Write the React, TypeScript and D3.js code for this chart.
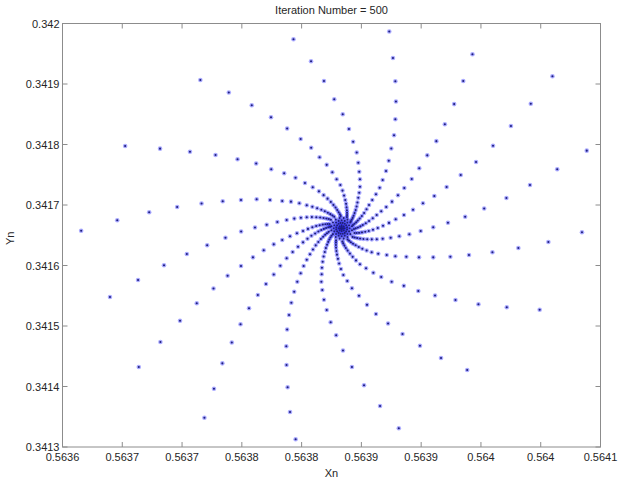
import React, { useEffect } from "react";
import * as d3 from "d3";

// Iterates of the map, one spiral arm at a time (outer -> inner)
const arm01: [number, number][] = [
  [0.5638733, 0.3419868], [0.5638764, 0.341943], [0.5638784, 0.3419045], [0.5638789, 0.3418711],
  [0.5638784, 0.3418417], [0.5638773, 0.3418154], [0.563875, 0.3417934], [0.5638729, 0.3417732],
  [0.5638706, 0.3417562], [0.5638678, 0.3417413], [0.5638653, 0.3417286], [0.5638622, 0.3417177],
  [0.5638591, 0.3417083], [0.5638564, 0.3417], [0.5638543, 0.3416929], [0.5638523, 0.3416869],
  [0.5638504, 0.3416819], [0.5638486, 0.3416777], [0.563847, 0.3416742], [0.5638456, 0.3416713],
  [0.5638442, 0.341669], [0.563843, 0.341667],
];
const arm02: [number, number][] = [
  [0.5637932, 0.3419739], [0.5638079, 0.3419375], [0.5638187, 0.341905], [0.5638273, 0.3418747],
  [0.5638344, 0.3418499], [0.5638396, 0.3418256], [0.5638431, 0.3418046], [0.5638461, 0.3417868],
  [0.5638474, 0.3417699], [0.5638482, 0.341755], [0.5638488, 0.3417425], [0.5638488, 0.3417302],
  [0.5638482, 0.3417203], [0.5638474, 0.3417121], [0.5638467, 0.3417042], [0.563846, 0.3416974],
  [0.5638452, 0.3416916], [0.5638443, 0.3416866], [0.5638435, 0.3416823], [0.5638427, 0.3416787],
  [0.5638419, 0.3416756], [0.5638411, 0.341673],
];
const arm03: [number, number][] = [
  [0.5639429, 0.3419491], [0.5639352, 0.341905], [0.5639276, 0.3418668], [0.5639198, 0.3418334],
  [0.5639127, 0.3418055], [0.5639051, 0.3417821], [0.5638984, 0.3417607], [0.5638921, 0.341743],
  [0.5638859, 0.3417281], [0.5638806, 0.341716], [0.5638756, 0.3417055], [0.5638708, 0.3416967],
  [0.5638666, 0.3416896], [0.5638628, 0.3416835], [0.5638595, 0.341678], [0.5638564, 0.3416735],
  [0.5638537, 0.3416698], [0.5638512, 0.3416669], [0.5638491, 0.3416646], [0.5638471, 0.3416628],
  [0.5638453, 0.3416614], [0.5638438, 0.3416604],
];
const arm04: [number, number][] = [
  [0.5640098, 0.3419127], [0.5639917, 0.3418674], [0.5639751, 0.3418306], [0.5639601, 0.341798],
  [0.5639459, 0.3417711], [0.5639331, 0.3417496], [0.5639213, 0.3417298], [0.563911, 0.3417149],
  [0.5639015, 0.3417028], [0.5638932, 0.3416922], [0.5638856, 0.3416835], [0.5638787, 0.3416764],
  [0.5638731, 0.3416704], [0.5638681, 0.3416656], [0.5638637, 0.341662], [0.5638597, 0.3416592],
  [0.5638562, 0.3416571], [0.5638532, 0.3416557], [0.5638505, 0.3416547], [0.5638481, 0.341654],
  [0.563846, 0.3416537], [0.5638442, 0.3416536],
];
const arm05: [number, number][] = [
  [0.5640385, 0.3417898], [0.5640138, 0.341759], [0.563991, 0.3417331], [0.5639713, 0.3417116],
  [0.5639527, 0.3416942], [0.5639368, 0.3416807], [0.5639224, 0.3416707], [0.5639101, 0.3416631],
  [0.5638996, 0.341657], [0.5638901, 0.3416516], [0.5638817, 0.3416483], [0.5638745, 0.3416459],
  [0.5638678, 0.3416443], [0.5638629, 0.3416435], [0.5638587, 0.3416432], [0.5638549, 0.3416433],
  [0.5638517, 0.3416438], [0.5638489, 0.3416445], [0.5638465, 0.3416453], [0.5638444, 0.3416463],
  [0.5638426, 0.3416473],
];
const arm06: [number, number][] = [
  [0.5640345, 0.3416549], [0.5640064, 0.3416388], [0.5639813, 0.3416289], [0.5639596, 0.3416218],
  [0.56394, 0.3416174], [0.5639244, 0.3416145], [0.5639101, 0.3416135], [0.5638982, 0.3416135],
  [0.5638876, 0.3416145], [0.5638784, 0.3416152], [0.5638712, 0.3416174], [0.5638641, 0.3416195],
  [0.5638586, 0.3416218], [0.5638544, 0.3416248], [0.5638508, 0.3416277], [0.5638478, 0.3416306],
  [0.5638452, 0.3416334], [0.563843, 0.341636], [0.5638412, 0.3416385], [0.5638397, 0.3416408],
  [0.5638384, 0.341643],
];
const arm07: [number, number][] = [
  [0.5639991, 0.3415269], [0.5639716, 0.3415309], [0.5639479, 0.341536], [0.5639287, 0.341543],
  [0.5639116, 0.3415504], [0.5638976, 0.3415578], [0.5638855, 0.3415664], [0.5638753, 0.3415732],
  [0.5638666, 0.341581], [0.56386, 0.3415881], [0.5638539, 0.3415954], [0.5638488, 0.341602],
  [0.5638455, 0.3416084], [0.5638427, 0.3416143], [0.5638404, 0.3416197], [0.5638385, 0.3416246],
  [0.563837, 0.3416289], [0.5638358, 0.3416329], [0.5638348, 0.3416365], [0.5638341, 0.3416396],
];
const arm08: [number, number][] = [
  [0.5639385, 0.3414273], [0.5639166, 0.3414471], [0.563899, 0.3414674], [0.5638844, 0.3414868],
  [0.5638723, 0.3415041], [0.5638622, 0.3415198], [0.5638547, 0.341535], [0.563848, 0.3415499],
  [0.5638421, 0.3415623], [0.5638382, 0.3415744], [0.5638349, 0.3415843], [0.5638329, 0.3415943],
  [0.5638314, 0.3416032], [0.5638304, 0.341611], [0.5638296, 0.3416179], [0.5638291, 0.341624],
  [0.5638288, 0.3416293], [0.5638287, 0.3416339], [0.5638287, 0.341638], [0.5638288, 0.3416415],
];
const arm09: [number, number][] = [
  [0.5638813, 0.3413309], [0.5638656, 0.3413678], [0.5638522, 0.341402], [0.5638421, 0.3414322],
  [0.5638346, 0.3414595], [0.5638289, 0.3414848], [0.5638243, 0.3415061], [0.563821, 0.3415264],
  [0.5638187, 0.3415435], [0.5638173, 0.3415595], [0.5638165, 0.3415732], [0.5638168, 0.3415855],
  [0.563817, 0.3415964], [0.5638176, 0.3416063], [0.5638184, 0.3416149], [0.5638194, 0.3416224],
  [0.5638203, 0.3416288], [0.5638213, 0.3416343], [0.5638223, 0.341639], [0.5638232, 0.3416429],
  [0.5638241, 0.3416463], [0.563825, 0.3416491],
];
const arm10: [number, number][] = [
  [0.563795, 0.3413127], [0.5637903, 0.3413578], [0.5637883, 0.3413987], [0.5637874, 0.3414355],
  [0.5637872, 0.3414666], [0.5637879, 0.3414942], [0.5637895, 0.3415182], [0.5637914, 0.3415385],
  [0.5637938, 0.3415567], [0.5637964, 0.3415732], [0.5637992, 0.3415871], [0.5638017, 0.3415992],
  [0.5638043, 0.3416096], [0.563807, 0.3416185], [0.5638095, 0.3416265], [0.5638118, 0.3416333],
  [0.563814, 0.3416389], [0.5638161, 0.3416437], [0.563818, 0.3416476], [0.5638197, 0.3416508],
  [0.5638212, 0.3416534], [0.5638227, 0.3416556],
];
const arm11: [number, number][] = [
  [0.5637187, 0.3413484], [0.5637267, 0.3413964], [0.5637337, 0.3414383], [0.5637416, 0.3414727],
  [0.5637489, 0.3415028], [0.563756, 0.3415293], [0.5637634, 0.3415512], [0.5637702, 0.3415694],
  [0.5637767, 0.3415851], [0.5637822, 0.3415997], [0.5637875, 0.3416119], [0.5637925, 0.3416223],
  [0.563797, 0.3416311], [0.5638012, 0.3416383], [0.5638049, 0.3416443], [0.5638082, 0.3416491],
  [0.5638113, 0.341653], [0.563814, 0.3416561], [0.5638164, 0.3416586], [0.5638186, 0.3416605],
  [0.5638205, 0.341662], [0.5638223, 0.3416631], [0.5638238, 0.3416639],
];
const arm12: [number, number][] = [
  [0.5636638, 0.3414322], [0.5636819, 0.3414735], [0.5636983, 0.3415088], [0.5637123, 0.3415375],
  [0.5637263, 0.341562], [0.5637381, 0.3415831], [0.5637493, 0.3415992], [0.5637593, 0.3416135],
  [0.5637683, 0.3416253], [0.5637767, 0.341635], [0.5637838, 0.3416421], [0.5637903, 0.3416483],
  [0.5637961, 0.3416532], [0.5638012, 0.341657], [0.5638053, 0.3416605], [0.563809, 0.3416632],
  [0.5638122, 0.3416652], [0.5638151, 0.3416666], [0.5638177, 0.3416676], [0.5638199, 0.3416682],
  [0.5638218, 0.3416686], [0.5638235, 0.3416687],
];
const arm13: [number, number][] = [
  [0.5636397, 0.3415479], [0.5636632, 0.341576], [0.5636849, 0.3416003], [0.563704, 0.341619],
  [0.563721, 0.3416334], [0.5637363, 0.3416459], [0.5637494, 0.3416562], [0.563761, 0.3416628],
  [0.5637708, 0.3416674], [0.5637797, 0.3416719], [0.5637875, 0.3416752], [0.5637939, 0.3416775],
  [0.5637994, 0.341679], [0.5638043, 0.3416798], [0.5638086, 0.34168], [0.5638123, 0.3416798],
  [0.5638155, 0.3416793], [0.5638183, 0.3416786], [0.5638207, 0.3416777], [0.5638227, 0.3416768],
  [0.5638245, 0.3416757],
];
const arm14: [number, number][] = [
  [0.5636156, 0.3416575], [0.5636458, 0.3416747], [0.5636725, 0.3416879], [0.5636959, 0.3416967],
  [0.5637163, 0.3417025], [0.563734, 0.3417063], [0.5637493, 0.3417083], [0.5637624, 0.3417094],
  [0.5637736, 0.3417083], [0.5637838, 0.3417066], [0.5637911, 0.3417055], [0.5637981, 0.3417028],
  [0.5638043, 0.3416995], [0.563809, 0.3416971], [0.563813, 0.3416947], [0.5638165, 0.3416922],
  [0.5638194, 0.3416897], [0.5638219, 0.3416873], [0.563824, 0.3416849], [0.5638258, 0.3416827],
  [0.5638273, 0.3416806],
];
const arm15: [number, number][] = [
  [0.5636524, 0.3417975], [0.5636816, 0.3417931], [0.5637066, 0.3417881], [0.563728, 0.3417826],
  [0.5637464, 0.3417755], [0.563762, 0.3417686], [0.5637746, 0.3417592], [0.5637854, 0.3417524],
  [0.5637949, 0.3417451], [0.5638028, 0.3417364], [0.5638093, 0.3417293], [0.5638145, 0.3417226],
  [0.5638184, 0.3417163], [0.5638217, 0.3417105], [0.5638244, 0.3417051], [0.5638266, 0.3417002],
  [0.5638284, 0.3416958], [0.5638298, 0.3416917], [0.563831, 0.3416881], [0.563832, 0.3416848],
  [0.5638327, 0.3416819],
];
const arm16: [number, number][] = [
  [0.5637153, 0.3419066], [0.5637391, 0.341886], [0.5637583, 0.3418648], [0.5637744, 0.341845],
  [0.5637879, 0.3418265], [0.5637992, 0.3418091], [0.563808, 0.3417947], [0.563815, 0.341779],
  [0.563821, 0.3417664], [0.5638257, 0.3417541], [0.5638293, 0.3417425], [0.5638324, 0.3417331],
  [0.5638342, 0.3417238], [0.5638355, 0.3417155], [0.5638365, 0.3417083], [0.5638372, 0.3417019],
  [0.5638376, 0.3416962], [0.5638379, 0.3416913], [0.563838, 0.341687], [0.563838, 0.3416833],
  [0.5638379, 0.34168],
];
// last iterates, packed round the fixed point
const core: [number, number][] = [
  [0.5638421, 0.3416581], [0.5638408, 0.3416518], [0.5638384, 0.3416471], [0.5638352, 0.3416445],
  [0.5638318, 0.3416445], [0.5638286, 0.3416471], [0.5638262, 0.3416518], [0.5638249, 0.3416581],
  [0.5638249, 0.3416649], [0.5638262, 0.3416711], [0.5638286, 0.3416759], [0.5638318, 0.3416785],
  [0.5638352, 0.3416785], [0.5638384, 0.3416759], [0.5638408, 0.3416711], [0.5638421, 0.3416649],
  [0.5638402, 0.3416615], [0.5638397, 0.3416564], [0.5638383, 0.3416521], [0.5638361, 0.3416493],
  [0.5638335, 0.3416483], [0.563831, 0.3416493], [0.5638288, 0.3416521], [0.5638273, 0.3416564],
  [0.5638268, 0.3416615], [0.5638273, 0.3416666], [0.5638288, 0.3416709], [0.563831, 0.3416737],
  [0.5638335, 0.3416747], [0.5638361, 0.3416737], [0.5638383, 0.3416709], [0.5638397, 0.3416666],
  [0.563838, 0.3416597], [0.5638373, 0.3416564], [0.5638361, 0.3416539], [0.5638344, 0.3416526],
  [0.5638326, 0.3416526], [0.563831, 0.3416539], [0.5638297, 0.3416564], [0.563829, 0.3416597],
  [0.563829, 0.3416633], [0.5638297, 0.3416666], [0.563831, 0.341669], [0.5638326, 0.3416704],
  [0.5638344, 0.3416704], [0.5638361, 0.341669], [0.5638373, 0.3416666], [0.563838, 0.3416633],
  [0.563836, 0.3416615], [0.5638353, 0.341658], [0.5638335, 0.3416565], [0.5638318, 0.341658],
  [0.563831, 0.3416615], [0.5638318, 0.341665], [0.5638335, 0.3416664], [0.5638353, 0.341665],
  [0.5638348, 0.3416615], [0.5638322, 0.3416615], [0.5638335, 0.341659], [0.5638335, 0.341664],
  [0.5638335, 0.3416615],
];

const xTickValues = [0.5636, 0.56365, 0.5637, 0.56375, 0.5638, 0.56385, 0.5639, 0.56395, 0.564, 0.56405];
const xTickLabels = ["0.5636", "0.5637", "0.5637", "0.5638", "0.5638", "0.5639", "0.5639", "0.564", "0.564", "0.5641"];
const yTickValues = [0.3413, 0.3414, 0.3415, 0.3416, 0.3417, 0.3418, 0.3419, 0.342];
const yTickLabels = ["0.3413", "0.3414", "0.3415", "0.3416", "0.3417", "0.3418", "0.3419", "0.342"];

const arms = [arm01, arm02, arm03, arm04, arm05, arm06, arm07, arm08,
  arm09, arm10, arm11, arm12, arm13, arm14, arm15, arm16, core];

const width = 623;
const height = 483;
const margin = { top: 23.5, right: 22.5, bottom: 36, left: 62.5 };
const font = "'Liberation Sans', Arial, Helvetica, sans-serif";

export default function App() {
  useEffect(() => {
    document.body.style.margin = "0";
  }, []);

  const x = d3.scaleLinear().domain([0.5636, 0.56405]).range([margin.left, width - margin.right]);
  const y = d3.scaleLinear().domain([0.3413, 0.342]).range([height - margin.bottom, margin.top]);
  const [x0, x1] = x.range();
  const [y0, y1] = y.range(); // y0 bottom, y1 top
  const tick = 5;
  const points = arms.flat();

  return (
    <svg width={width} height={height} style={{ display: "block", position: "absolute", left: 0, top: 0, background: "#fff" }}
      fontFamily={font} fontSize={11}>
      <rect x={0} y={0} width={width} height={height} fill="#fff" />
      <text x={(x0 + x1) / 2} y={14} textAnchor="middle" fill="#262626">Iteration Number = 500</text>

      <g>
        {/* soft blue halo of each '.' marker, then its dark centre */}
        {points.map((p, i) => (
          <circle key={"h" + i} cx={x(p[0])} cy={y(p[1])} r={2.3} fill="#0000ff" fillOpacity={0.33} />
        ))}
        {points.map((p, i) => (
          <circle key={"d" + i} cx={x(p[0])} cy={y(p[1])} r={1.05} fill="#1e1e7c" />
        ))}
      </g>

      <g stroke="#8c8c8c" strokeWidth={1}>
        <rect x={x0} y={y1} width={x1 - x0} height={y0 - y1} fill="none" />
        {xTickValues.map((v, i) => (
          <g key={"xt" + i}>
            <line x1={x(v)} x2={x(v)} y1={y0} y2={y0 - tick} />
            <line x1={x(v)} x2={x(v)} y1={y1} y2={y1 + tick} />
          </g>
        ))}
        {yTickValues.map((v, i) => (
          <g key={"yt" + i}>
            <line x1={x0} x2={x0 + tick} y1={y(v)} y2={y(v)} />
            <line x1={x1} x2={x1 - tick} y1={y(v)} y2={y(v)} />
          </g>
        ))}
      </g>

      <g fill="#262626">
        {xTickValues.map((v, i) => (
          <text key={"xl" + i} x={x(v)} y={y0 + 14} textAnchor="middle">{xTickLabels[i]}</text>
        ))}
        {yTickValues.map((v, i) => (
          <text key={"yl" + i} x={x0 - 3} y={y(v) + 4} textAnchor="end">{yTickLabels[i]}</text>
        ))}
        <text x={(x0 + x1) / 2} y={477} textAnchor="middle">Xn</text>
        <text transform={`translate(14,${(y0 + y1) / 2 + 3}) rotate(-90)`} textAnchor="middle">Yn</text>
      </g>
    </svg>
  );
}
